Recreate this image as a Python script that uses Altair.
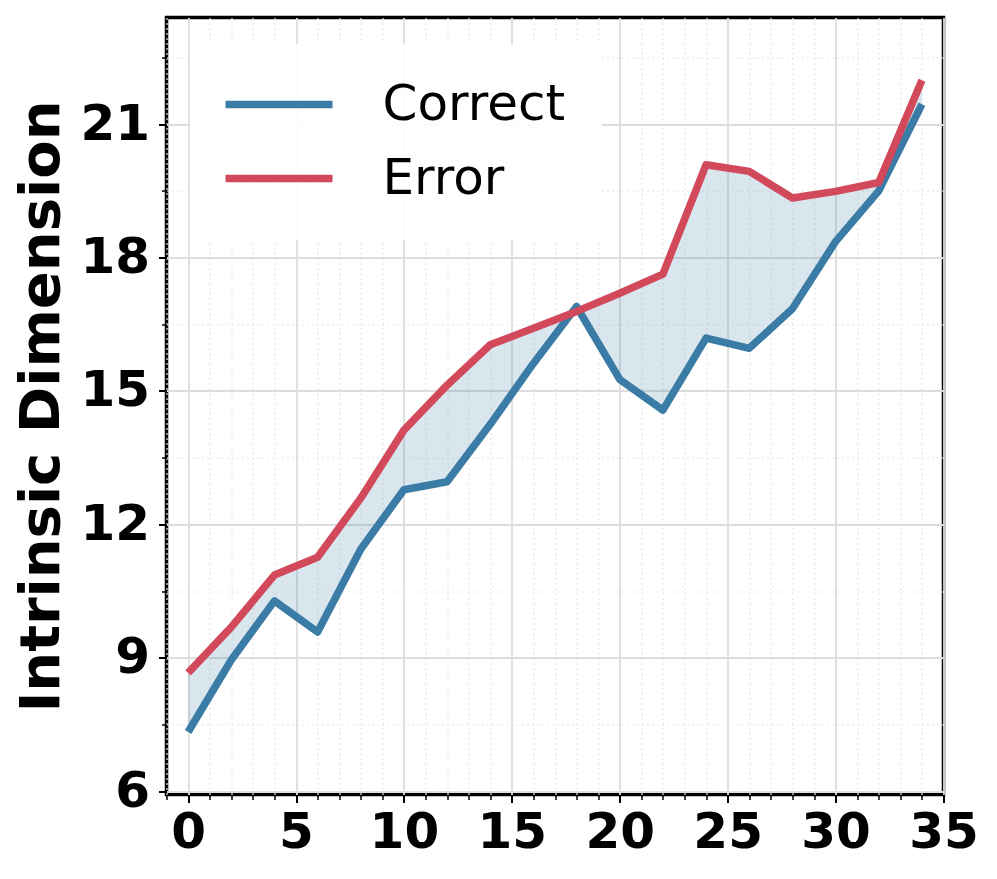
import altair as alt
import pandas as pd

steps = [0, 2, 4, 6, 8, 10, 12, 14, 16, 18, 20, 22, 24, 26, 28, 30, 32, 34]
correct = [7.33, 8.95, 10.28, 9.58, 11.44, 12.78, 12.96, 14.25, 15.62, 16.9, 15.26, 14.57, 16.19, 15.96, 16.85, 18.36, 19.5, 21.45]
error = [8.66, 9.69, 10.86, 11.26, 12.59, 14.12, 15.13, 16.04, 16.41, 16.79, 17.2, 17.63, 20.09, 19.94, 19.34, 19.49, 19.69, 21.99]

series = ["Correct", "Error"]
colors = ["#3a7ca5", "#d1495b"]

x_major = [0, 5, 10, 15, 20, 25, 30, 35]
x_minor = [v for v in range(-1, 36) if v % 5 != 0]
y_major = [6, 9, 12, 15, 18, 21]
y_minor = [7.5, 10.5, 13.5, 16.5, 19.5, 22.5]

wide = pd.DataFrame({"step": steps, "Correct": correct, "Error": error})
long = wide.melt(id_vars="step", value_vars=series, var_name="series", value_name="value")

xscale = alt.Scale(domain=[-1, 35], nice=False, zero=False)
yscale = alt.Scale(domain=[5.925, 23.4], nice=False, zero=False)

font = "DejaVu Sans"

major_x = alt.Axis(values=x_major, orient="bottom", title=None, domain=False,
                   grid=True, gridColor="#dddddd", gridWidth=1.8,
                   tickSize=8, tickWidth=2, tickColor="black",
                   labelFont=font, labelFontWeight="bold", labelFontSize=50,
                   labelColor="black", labelPadding=5, labelFlush=False)
major_y = alt.Axis(values=y_major, orient="left", title="Intrinsic Dimension", domain=False,
                   grid=True, gridColor="#dddddd", gridWidth=1.8,
                   tickSize=8, tickWidth=2, tickColor="black",
                   labelFont=font, labelFontWeight="bold", labelFontSize=50,
                   labelColor="black", labelPadding=9, labelFlush=False,
                   titleFont=font, titleFontWeight="bold", titleFontSize=56,
                   titleColor="black", titlePadding=9)
minor_x = alt.Axis(values=x_minor, orient="bottom", title=None, domain=False, labels=False,
                   grid=True, gridColor="#e6e6e6", gridWidth=1.2, gridDash=[2, 3],
                   tickSize=5, tickWidth=1.5, tickColor="black")
minor_y = alt.Axis(values=y_minor, orient="left", title=None, domain=False, labels=False,
                   grid=True, gridColor="#e6e6e6", gridWidth=1.2, gridDash=[2, 3],
                   tickSize=5, tickWidth=1.5, tickColor="black")

area = alt.Chart(wide).mark_area(color=colors[0], opacity=0.19).encode(
    x=alt.X("step:Q", scale=xscale, axis=minor_x),
    y=alt.Y("Correct:Q", scale=yscale, axis=minor_y),
    y2="Error:Q",
)

lines = alt.Chart(long).mark_line(strokeWidth=7.5, strokeJoin="round").encode(
    x=alt.X("step:Q", scale=xscale, axis=major_x),
    y=alt.Y("value:Q", scale=yscale, axis=major_y),
    color=alt.Color("series:N", scale=alt.Scale(domain=series, range=colors),
                    legend=alt.Legend(title=None, orient="none", legendX=23, legendY=26,
                                      fillColor="rgba(255,255,255,0.9)", strokeColor="transparent",
                                      padding=36, symbolType="M-1.4,0H4.6", symbolSize=1272,
                                      symbolStrokeWidth=7.5, labelFont=font, labelFontSize=50,
                                      labelColor="black", labelOffset=107, labelLimit=0,
                                      rowPadding=24)),
)

chart = alt.layer(area, lines).resolve_axis(x="independent", y="independent").properties(
    width=777, height=777,
    autosize=alt.AutoSizeParams(type="none"),
    padding={"left": 158.5, "top": 9.5, "right": 45.5, "bottom": 76.5},
).configure_view(stroke="black", strokeWidth=3.5)

chart.save("out.html", embed_options={"renderer": "svg", "actions": False})
